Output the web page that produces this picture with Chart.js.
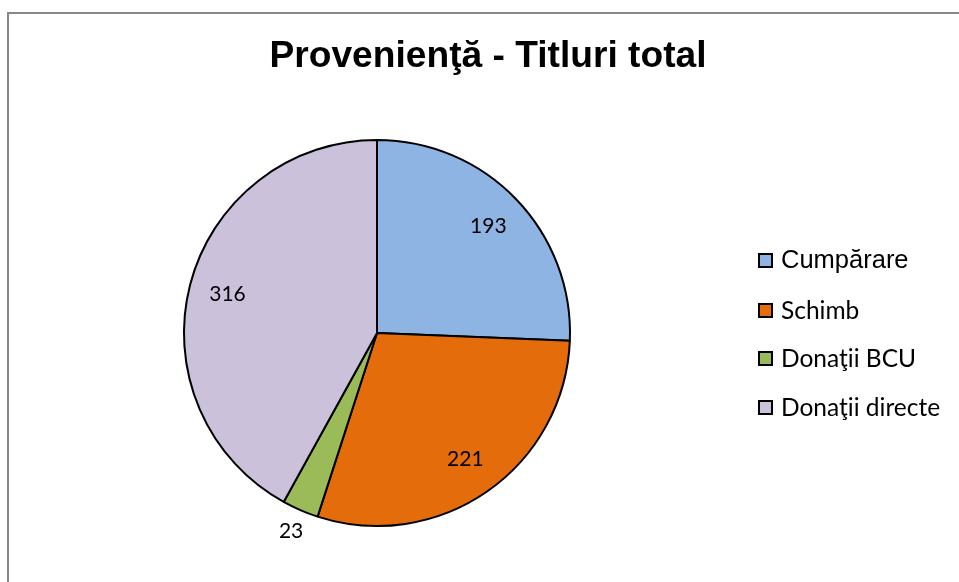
<!DOCTYPE html>
<html><head><meta charset="utf-8">
<script src="https://cdn.jsdelivr.net/npm/chart.js@4.4.0/dist/chart.umd.min.js"></script>
<style>html,body{margin:0;padding:0;background:#fff;overflow:hidden}#wrap{width:959px;height:582px;position:relative}</style>
</head><body><div id="wrap"><canvas id="c" width="959" height="582"></canvas></div>
<script>
const titleText = 'Provenienţă - Titluri total';
const categories = ['Cumpărare', 'Schimb', 'Donaţii BCU', 'Donaţii directe'];
const values = [193, 221, 23, 316];
const colors = ['#8EB4E3', '#E46C0A', '#9BBB59', '#CCC1DA'];

const decor = {
  id: 'decor',
  beforeDraw(chart) {
    const ctx = chart.ctx;
    ctx.save();
    ctx.fillStyle = '#fff';
    ctx.fillRect(0, 0, chart.width, chart.height);
    ctx.strokeStyle = '#878787';
    ctx.lineWidth = 2;
    ctx.beginPath();
    ctx.moveTo(8, 582); ctx.lineTo(8, 13); ctx.lineTo(959, 13);
    ctx.stroke();
    ctx.fillStyle = '#000';
    ctx.font = 'bold 36px "Liberation Sans", Arial, sans-serif';
    ctx.textAlign = 'center';
    ctx.textBaseline = 'alphabetic';
    const w = ctx.measureText(titleText).width;
    const sx = 437 / w;
    ctx.translate(488, 67);
    ctx.scale(sx, 1);
    ctx.fillText(titleText, 0, 0);
    ctx.restore();
  },
  afterDraw(chart) {
    const ctx = chart.ctx;
    const meta = chart.getDatasetMeta(0);
    ctx.save();
    ctx.fillStyle = '#000';
    ctx.textAlign = 'center';
    ctx.textBaseline = 'middle';
    ctx.font = '21px Lato, "Open Sans", sans-serif';
    meta.data.forEach((arc, i) => {
      const p = arc.getProps(['x','y','startAngle','endAngle','outerRadius'], true);
      const mid = (p.startAngle + p.endAngle) / 2;
      const small = (p.endAngle - p.startAngle) < 0.3;
      const r = small ? p.outerRadius * 1.12 : p.outerRadius * 0.8;
      ctx.fillText(String(chart.data.datasets[0].data[i]), p.x + Math.cos(mid) * r, p.y + Math.sin(mid) * r);
    });
    // legend
    const ys = [260, 310, 358, 407];
    chart.data.labels.forEach((lab, i) => {
      const y = ys[i];
      ctx.fillStyle = colors[i];
      ctx.fillRect(759, y - 6, 13, 13);
      ctx.strokeStyle = '#000';
      ctx.lineWidth = 2;
      ctx.strokeRect(759, y - 6, 13, 13);
      ctx.fillStyle = '#000';
      ctx.textAlign = 'left';
      ctx.textBaseline = 'middle';
      ctx.font = i === 0 ? '25.5px "Liberation Sans", Arial, sans-serif' : '24.5px Lato, "Open Sans", sans-serif';
      ctx.fillText(lab, 781, y + 1);
    });
    ctx.restore();
  }
};

new Chart(document.getElementById('c'), {
  type: 'pie',
  data: {
    labels: categories,
    datasets: [{
      data: values,
      backgroundColor: colors,
      borderColor: '#000',
      borderWidth: 2,
      borderAlign: 'center'
    }]
  },
  options: {
    responsive: false,
    animation: false,
    layout: { padding: { left: 183, right: 388, top: 139, bottom: 55 } },
    plugins: { legend: { display: false }, title: { display: false }, tooltip: { enabled: false } }
  },
  plugins: [decor]
});
</script></body></html>
